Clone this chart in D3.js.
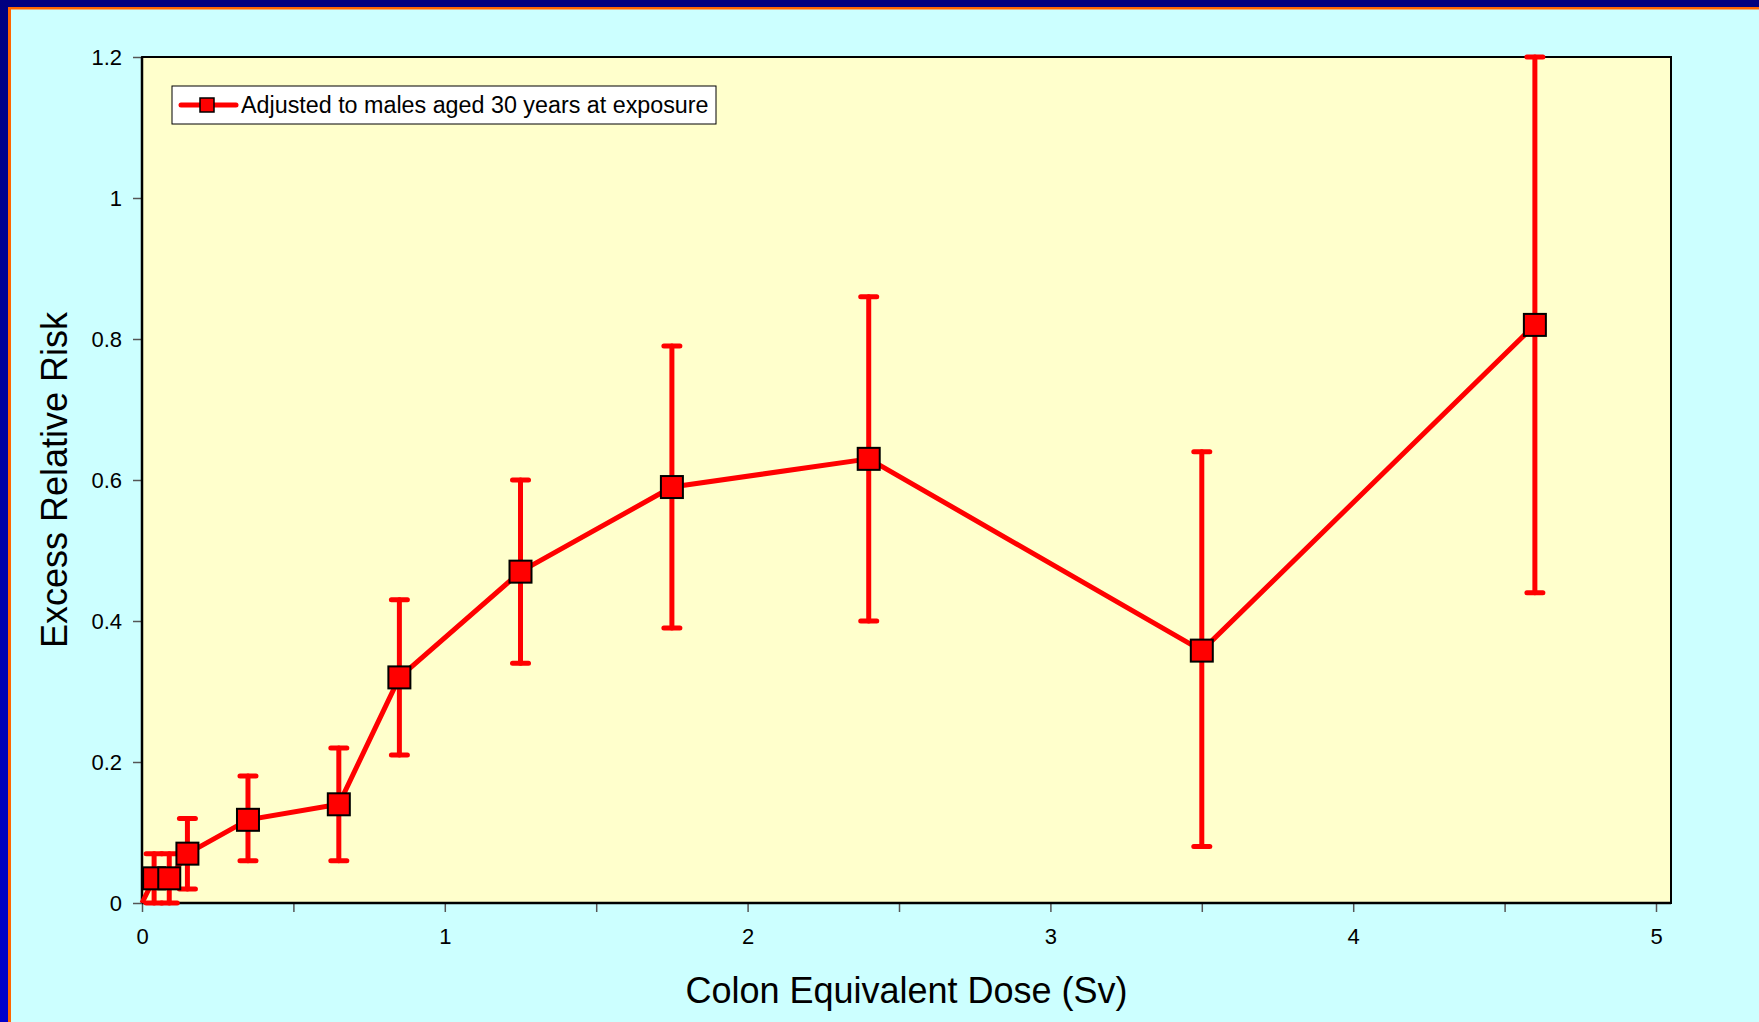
<!DOCTYPE html>
<html>
<head>
<meta charset="utf-8">
<script src="https://cdn.jsdelivr.net/npm/d3@7"></script>
<style>
  html, body { margin: 0; padding: 0; background: #ccffff; }
  svg { display: block; font-family: "Liberation Sans", Arial, sans-serif; }
</style>
</head>
<body>
<script>
// dose (Sv) and excess relative risk with error limits
var doses = [0.04, 0.09, 0.15, 0.35, 0.65, 0.85, 1.25, 1.75, 2.4, 3.5, 4.6];
var err = [0.035, 0.035, 0.07, 0.118, 0.14, 0.32, 0.47, 0.59, 0.63, 0.358, 0.82];
var errLow = [0, 0, 0.02, 0.06, 0.06, 0.21, 0.34, 0.39, 0.40, 0.08, 0.44];
var errHigh = [0.07, 0.07, 0.12, 0.18, 0.22, 0.43, 0.60, 0.79, 0.86, 0.64, 1.2];
var xTicks = [0, 0.5, 1, 1.5, 2, 2.5, 3, 3.5, 4, 4.5, 5];
var xLabels = ["0", "", "1", "", "2", "", "3", "", "4", "", "5"];
var yTicks = [0, 0.2, 0.4, 0.6, 0.8, 1, 1.2];
var seriesName = "Adjusted to males aged 30 years at exposure";

var width = 1759,
	height = 1022;

var svg = d3.select('body').append('svg')
	.attr('width', width)
	.attr('height', height);

var defs = svg.append('defs');
var grad = defs.append('linearGradient')
	.attr('id', 'leftGrad')
	.attr('x1', 0).attr('y1', 0).attr('x2', 0).attr('y2', 1);
grad.append('stop').attr('offset', '0%').attr('stop-color', '#000080');
grad.append('stop').attr('offset', '100%').attr('stop-color', '#0000cc');

// frame
svg.append('rect').attr('width', width).attr('height', height).attr('fill', '#ccffff');
svg.append('rect').attr('x', 0).attr('y', 0).attr('width', width).attr('height', 7).attr('fill', '#000080');
svg.append('rect').attr('x', 0).attr('y', 0).attr('width', 8).attr('height', height).attr('fill', 'url(#leftGrad)');
svg.append('rect').attr('x', 8).attr('y', 7).attr('width', width - 8).attr('height', 2.5).attr('fill', '#ff6600');
svg.append('rect').attr('x', 8).attr('y', 7).attr('width', 3).attr('height', height - 7).attr('fill', '#ff6600');

var pLeft = 142, pTop = 57, pRight = 1671, pBottom = 903;

var x = d3.scaleLinear().domain([0, 5]).range([pLeft, 1656]);
var y = d3.scaleLinear().domain([0, 1.2]).range([pBottom, pTop]);

svg.append('rect')
	.attr('x', pLeft).attr('y', pTop)
	.attr('width', pRight - pLeft).attr('height', pBottom - pTop)
	.attr('fill', '#ffffcc')
	.attr('stroke', '#000').attr('stroke-width', 2);

// axes
var xAxis = svg.append('g')
	.attr('transform', 'translate(0,' + pBottom + ')')
	.call(d3.axisBottom(x).tickValues(xTicks).tickSize(9).tickSizeOuter(0)
		.tickFormat(function (d, i) { return xLabels[i]; }));
xAxis.select('.domain').remove();
xAxis.selectAll('line').attr('stroke', '#555').attr('stroke-width', 1.5);
xAxis.selectAll('text').attr('font-size', 22).attr('fill', '#000').attr('dy', '1.3em')
	.style('font-family', '"Liberation Sans", Arial, sans-serif');

var yAxis = svg.append('g')
	.attr('transform', 'translate(' + pLeft + ',0)')
	.call(d3.axisLeft(y).tickValues(yTicks).tickSize(9).tickSizeOuter(0).tickFormat(d3.format('')));
yAxis.select('.domain').remove();
yAxis.selectAll('line').attr('stroke', '#555').attr('stroke-width', 1.5);
yAxis.selectAll('text').attr('font-size', 22).attr('fill', '#000').attr('x', -20)
	.style('font-family', '"Liberation Sans", Arial, sans-serif');

// redraw plot border over the ticks
svg.append('line').attr('x1', pLeft).attr('x2', pRight).attr('y1', pBottom).attr('y2', pBottom)
	.attr('stroke', '#000').attr('stroke-width', 2.5);
svg.append('line').attr('x1', pLeft).attr('x2', pLeft).attr('y1', pTop).attr('y2', pBottom)
	.attr('stroke', '#000').attr('stroke-width', 2.5);

// axis titles
svg.append('text')
	.attr('x', (pLeft + pRight) / 2).attr('y', 1003)
	.attr('text-anchor', 'middle').attr('font-size', 36)
	.text('Colon Equivalent Dose (Sv)');
svg.append('text')
	.attr('transform', 'translate(67,' + ((pTop + pBottom) / 2) + ') rotate(-90)')
	.attr('text-anchor', 'middle').attr('font-size', 36)
	.text('Excess Relative Risk');

var pts = doses.map(function (d, i) {
	return { x: d, y: err[i], lo: errLow[i], hi: errHigh[i] };
});

// error bars
var eb = svg.append('g').attr('stroke', '#ff0000').attr('stroke-width', 5).attr('stroke-linecap', 'round');
pts.forEach(function (p) {
	eb.append('line').attr('x1', x(p.x)).attr('x2', x(p.x)).attr('y1', y(p.lo)).attr('y2', y(p.hi));
	eb.append('line').attr('x1', x(p.x) - 8).attr('x2', x(p.x) + 8).attr('y1', y(p.lo)).attr('y2', y(p.lo));
	eb.append('line').attr('x1', x(p.x) - 8).attr('x2', x(p.x) + 8).attr('y1', y(p.hi)).attr('y2', y(p.hi));
});

// series line starts at the origin
var line = d3.line().x(function (d) { return x(d.x); }).y(function (d) { return y(d.y); });
svg.append('path')
	.datum([{ x: 0, y: 0 }].concat(pts))
	.attr('d', line)
	.attr('fill', 'none').attr('stroke', '#ff0000').attr('stroke-width', 5)
	.attr('stroke-linejoin', 'round');

svg.selectAll('.marker')
	.data(pts)
	.enter().append('rect')
	.attr('class', 'marker')
	.attr('x', function (d) { return x(d.x) - 11; })
	.attr('y', function (d) { return y(d.y) - 11; })
	.attr('width', 22).attr('height', 22)
	.attr('fill', '#ff0000').attr('stroke', '#000').attr('stroke-width', 2);

// legend
var lg = svg.append('g');
lg.append('rect').attr('x', 172).attr('y', 86).attr('width', 544).attr('height', 38)
	.attr('fill', '#fff').attr('stroke', '#000').attr('stroke-width', 1);
lg.append('line').attr('x1', 181).attr('x2', 236).attr('y1', 105).attr('y2', 105)
	.attr('stroke', '#ff0000').attr('stroke-width', 5).attr('stroke-linecap', 'round');
lg.append('rect').attr('x', 200).attr('y', 98).attr('width', 14).attr('height', 14)
	.attr('fill', '#ff0000').attr('stroke', '#000').attr('stroke-width', 1.5);
lg.append('text').attr('x', 241).attr('y', 112.5).attr('font-size', 23.3).text(seriesName);
</script>
</body>
</html>
